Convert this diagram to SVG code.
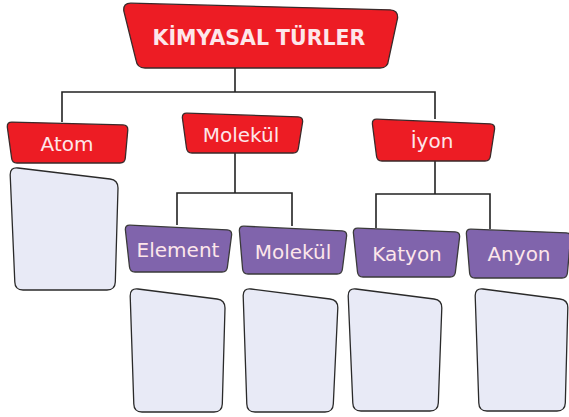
<svg xmlns="http://www.w3.org/2000/svg" width="569" height="417" viewBox="0 0 569 417">
<style>
.red{fill:#ed1c24;stroke:#3a2a2a;stroke-width:1.3}
.pur{fill:#8064ac;stroke:#3a3a3a;stroke-width:1.3}
.empty{fill:#e8eaf6;stroke:#2a2a2a;stroke-width:1.3}
.lbl{font-family:"DejaVu Sans",sans-serif;font-size:20px;fill:#fde6ea;text-anchor:middle}
.title{font-family:"DejaVu Sans",sans-serif;font-weight:bold;font-size:20.5px;fill:#fde6ea;text-anchor:middle}
.conn{fill:none;stroke:#222;stroke-width:1.6}
</style>
<rect width="569" height="417" fill="#ffffff"/>
<g id="connectors">
<path class="conn" d="M235,68 V92"/>
<path class="conn" d="M62,122 V92 H435 V119"/>
<path class="conn" d="M235,153 V193"/>
<path class="conn" d="M177,225 V193 H292 V226"/>
<path class="conn" d="M435,161 V194"/>
<path class="conn" d="M376,228 V194 H490 V229"/>
</g>
<g id="kimyasal-turler">
<path class="red" d="M131,3.2 L390,9.8 Q398,10 397.6,18 L388.5,60 Q388,68 380,68 L145,68 Q137,68 136,60 L123.8,11 Q123,3 131,3.2 Z"/>
<text class="title" x="259" y="45">KİMYASAL TÜRLER</text>
</g>
<g id="atom">
<path class="red" d="M12,122.1 L123,124.9 Q128,125 127.8,130 L125.3,158 Q125,163 120,163 L17,163 Q12,163 11.6,158 L7.3,127 Q7,122 12,122.1 Z"/>
<text class="lbl" x="67" y="151">Atom</text>
</g>
<g id="atom-box">
<path class="empty" d="M18,168 L110,179 Q118,180 118,188 L115.3,282 Q115,290 107,290 L23,290 Q15,290 14.8,282 L10.2,175 Q10,167 18,168 Z"/>
</g>
<g id="molekul">
<path class="red" d="M187,113.2 L298,116.8 Q303,117 302.6,122 L298.4,148 Q298,153 293,153 L192,153 Q187,153 186.5,148 L182.4,118 Q182,113 187,113.2 Z"/>
<text class="lbl" x="241" y="142">Molekül</text>
</g>
<g id="iyon">
<path class="red" d="M377,119.2 L490,123.8 Q495,124 494.6,129 L490.4,156 Q490,161 485,161 L382,161 Q377,161 376.5,156 L372.4,124 Q372,119 377,119.2 Z"/>
<text class="lbl" x="432" y="148">İyon</text>
</g>
<g id="element">
<path class="pur" d="M130,225.2 L227,229.8 Q232,230 231.6,235 L227.4,267 Q227,272 222,272 L135,272 Q130,272 129.5,267 L125.4,230 Q125,225 130,225.2 Z"/>
<text class="lbl" x="178" y="257">Element</text>
</g>
<g id="molekul2">
<path class="pur" d="M244,226.2 L342,230.8 Q347,231 346.6,236 L342.4,269 Q342,274 337,274 L248,274 Q243,274 242.6,269 L239.4,231 Q239,226 244,226.2 Z"/>
<text class="lbl" x="293" y="259">Molekül</text>
</g>
<g id="katyon">
<path class="pur" d="M358,228.2 L455,231.8 Q460,232 459.6,237 L455.4,272 Q455,277 450,277 L363,277 Q358,277 357.5,272 L353.4,233 Q353,228 358,228.2 Z"/>
<text class="lbl" x="407" y="261">Katyon</text>
</g>
<g id="anyon">
<path class="pur" d="M471,229.2 L566,232.8 Q571,233 570.6,238 L567.4,273 Q567,278 562,278 L475,278 Q470,278 469.6,273 L466.4,234 Q466,229 471,229.2 Z"/>
<text class="lbl" x="519" y="261">Anyon</text>
</g>
<g id="element-box">
<path class="empty" d="M138,289 L217,299 Q225,300 225,308 L222.3,404 Q222,412 214,412 L142,412 Q134,412 133.8,404 L130.2,296 Q130,288 138,289 Z"/>
</g>
<g id="molekul-box">
<path class="empty" d="M251,289 L330,299 Q338,300 337.8,308 L333.3,404 Q333,412 325,412 L255,412 Q247,412 246.8,404 L243.2,296 Q243,288 251,289 Z"/>
</g>
<g id="katyon-box">
<path class="empty" d="M356,289 L434,299 Q442,300 441.8,308 L438.3,403 Q438,411 430,411 L361,411 Q353,411 352.8,403 L348.2,296 Q348,288 356,289 Z"/>
</g>
<g id="anyon-box">
<path class="empty" d="M483,289 L560,299 Q568,300 567.8,308 L565.3,403 Q565,411 557,411 L487,411 Q479,411 478.8,403 L475.2,296 Q475,288 483,289 Z"/>
</g>
</svg>
